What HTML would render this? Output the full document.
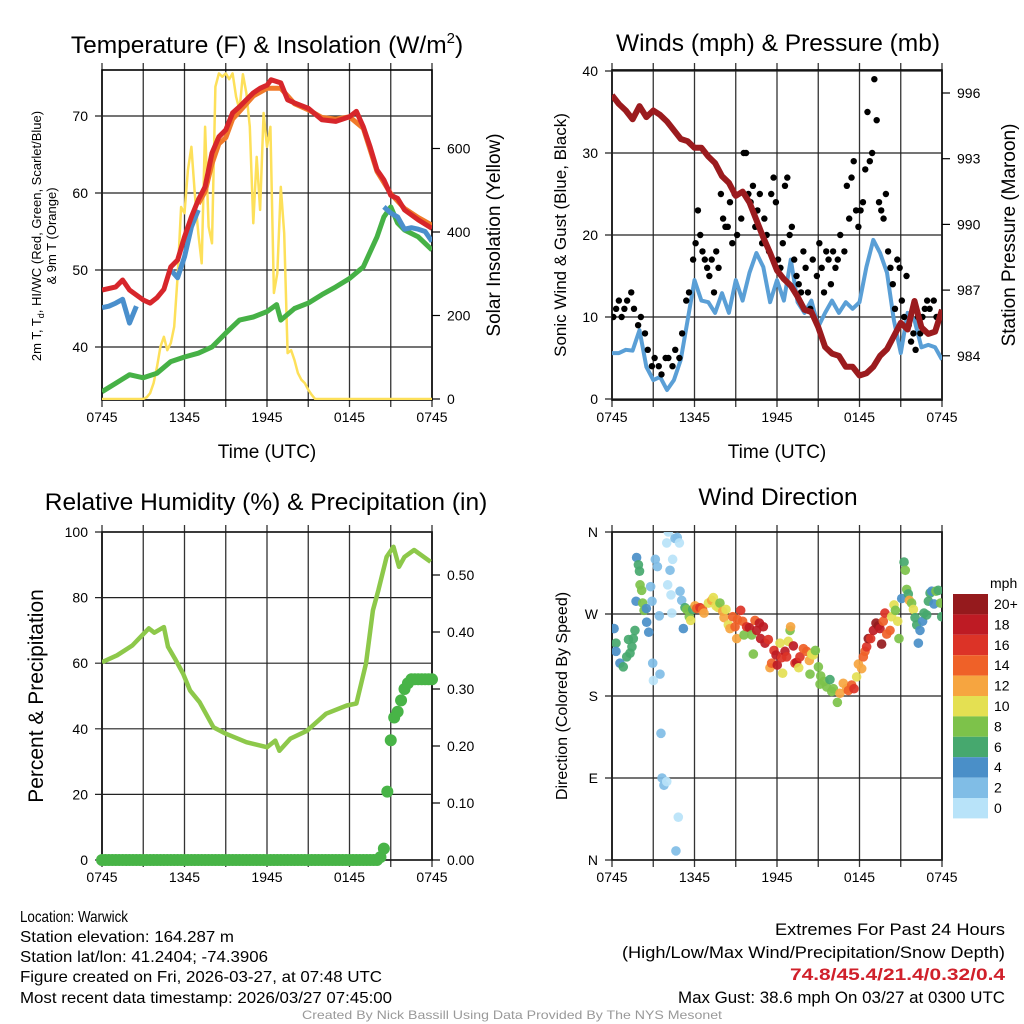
<!DOCTYPE html>
<html><head><meta charset="utf-8"><title>Warwick Meteogram</title>
<style>
html,body{margin:0;padding:0;background:#fff;}
svg{display:block;font-family:"Liberation Sans",sans-serif;}
</style></head>
<body>
<svg id="fig" width="1024" height="1024" viewBox="0 0 1024 1024" xmlns="http://www.w3.org/2000/svg">
<defs>
<clipPath id="c1"><rect x="102" y="70" width="330" height="330"/></clipPath>
<clipPath id="c2"><rect x="612" y="70" width="330" height="330"/></clipPath>
<clipPath id="c3"><rect x="102" y="532" width="330" height="328"/></clipPath>
<clipPath id="c4"><rect x="612" y="532" width="330" height="328"/></clipPath>
</defs>

<!-- titles -->
<text x="267" y="53" font-size="24.5" text-anchor="middle">Temperature (F) &amp; Insolation (W/m<tspan dy="-10" font-size="15">2</tspan><tspan dy="10">)</tspan></text>
<text x="778" y="51" font-size="24.5" text-anchor="middle">Winds (mph) &amp; Pressure (mb)</text>
<text x="266" y="510" font-size="24.5" text-anchor="middle">Relative Humidity (%) &amp; Precipitation (in)</text>
<text x="778" y="505" font-size="24.5" text-anchor="middle">Wind Direction</text>

<!-- axis titles -->
<text x="267" y="458" font-size="19" text-anchor="middle">Time (UTC)</text>
<text x="777" y="458" font-size="19" text-anchor="middle">Time (UTC)</text>
<text transform="translate(41,236) rotate(-90)" font-size="13" text-anchor="middle">2m T, T<tspan dy="3" font-size="9">d</tspan><tspan dy="-3">, HI/WC (Red, Green, Scarlet/Blue)</tspan></text>
<text transform="translate(56,236) rotate(-90)" font-size="13" text-anchor="middle">&amp; 9m T (Orange)</text>
<text transform="translate(500,235) rotate(-90)" font-size="19" text-anchor="middle">Solar Insolation (Yellow)</text>
<text transform="translate(566,235) rotate(-90)" font-size="17" text-anchor="middle">Sonic Wind &amp; Gust (Blue, Black)</text>
<text transform="translate(1015,235) rotate(-90)" font-size="19" text-anchor="middle">Station Pressure (Maroon)</text>
<text transform="translate(43,696) rotate(-90)" font-size="21" text-anchor="middle">Percent &amp; Precipitation</text>
<text transform="translate(567,696) rotate(-90)" font-size="16" text-anchor="middle">Direction (Colored By Speed)</text>

<g id="layer"></g>

<!-- colorbar label -->
<text x="990" y="588" font-size="14">mph</text>

<!-- footer -->
<g font-size="16">
<text x="20" y="922" textLength="108" lengthAdjust="spacingAndGlyphs">Location: Warwick</text>
<text x="20" y="942" textLength="214" lengthAdjust="spacingAndGlyphs">Station elevation: 164.287 m</text>
<text x="20" y="962" textLength="248" lengthAdjust="spacingAndGlyphs">Station lat/lon: 41.2404; -74.3906</text>
<text x="20" y="982" textLength="362" lengthAdjust="spacingAndGlyphs">Figure created on Fri, 2026-03-27, at 07:48 UTC</text>
<text x="20" y="1003" textLength="372" lengthAdjust="spacingAndGlyphs">Most recent data timestamp: 2026/03/27 07:45:00</text>
</g>
<g font-size="17" text-anchor="end">
<text x="1005" y="935" textLength="230" lengthAdjust="spacingAndGlyphs">Extremes For Past 24 Hours</text>
<text x="1005" y="958" textLength="383" lengthAdjust="spacingAndGlyphs">(High/Low/Max Wind/Precipitation/Snow Depth)</text>
<text x="1005" y="980" textLength="215" lengthAdjust="spacingAndGlyphs" fill="#d0202a" font-weight="bold">74.8/45.4/21.4/0.32/0.4</text>
<text x="1005" y="1003" textLength="327" lengthAdjust="spacingAndGlyphs">Max Gust: 38.6 mph On 03/27 at 0300 UTC</text>
</g>
<text x="512" y="1019" font-size="12" fill="#999" text-anchor="middle" textLength="420" lengthAdjust="spacingAndGlyphs">Created By Nick Bassill Using Data Provided By The NYS Mesonet</text>
</svg>

<script>
// ---- time axis ----
const xTickLabels = ["0745","1345","1945","0145","0745"];
// ---- panel 1: temperature ----
const tempTimes = [0,1,1.5,2,3,3.5,4,4.5,5,5.5,6,6.5,7,7.5,8,8.5,9,9.5,10,10.5,11,11.5,12,12.3,13,13.5,14,15,16,17,18,18.5,19,19.5,20,20.5,21,21.5,22,23,24];
const tempValues = [47.4,47.8,48.7,47.4,46.1,45.7,46.4,47.5,50.4,51.3,54.3,56.9,59.1,60.8,65.2,67.3,68.2,70.4,71.2,72.1,73.0,73.6,74.0,74.7,74.3,72.1,71.7,71.0,69.5,69.3,69.9,70.6,68.6,66.0,63.0,61.7,59.7,59.3,57.8,56.5,55.4];
const t9Times = [7,7.5,8,8.5,9,9.5,10,11,12,13,14,15,16,17,18,19,20,21,22,23,24];
const t9Values = [58.6,60.2,63.8,66.4,67.2,69.6,70.6,72.6,73.6,73.6,71.6,70.8,69.8,69.6,69.9,68.4,62.8,59.9,58.0,56.8,55.8];
const dewTimes = [0,1,2,3,4,5,6,7,8,9,10,11,12,12.7,13,14,15,16,17,18,19,20,20.5,21,21.5,22,23,24];
const dewValues = [34.2,35.3,36.4,36.0,36.6,38.1,38.7,39.2,40.0,41.8,43.5,43.9,44.6,45.5,43.5,45.0,45.7,46.8,47.8,48.9,50.4,54.3,56.9,58.2,56.1,55.2,54.3,52.6];
const hiTimes = [0,0.5,1,1.5,2,2.5,4.8,5,5.5,6,6.5,7,20,20.5,21,21.5,22,22.5,23,23.5,24];
const hiValues = [45.1,45.3,45.7,46.2,43.1,45.3,null,50.0,49.0,51.7,55.6,57.8,null,58.2,57.4,56.9,55.3,55.5,55.3,55.0,53.7];
const solarTimes = [0,3,3.25,3.5,3.75,4,4.25,4.5,4.75,5,5.25,5.5,5.75,6,6.25,6.5,6.75,7,7.25,7.5,7.75,8,8.25,8.5,8.75,9,9.25,9.5,9.75,10,10.25,10.5,10.75,11,11.25,11.5,11.75,12,12.25,12.5,12.75,13,13.25,13.5,13.75,14,14.25,14.5,14.75,15,15.25,15.5,24];
const solarValues = [0,0,4,14,38,77,125,149,117,134,173,293,460,445,548,604,492,397,325,652,413,373,748,780,772,780,766,780,724,692,778,732,652,421,580,453,685,604,652,254,301,508,397,110,117,93,62,46,38,22,10,0,0];
const tempTicks = [40,50,60,70];
const solarTicks = [0,200,400,600];
// ---- panel 2: winds ----
const windTimes = [0,0.5,1,1.5,2,2.5,3,3.5,4,4.5,5,5.5,6,6.5,7,7.5,8,8.5,9,9.5,10,10.5,11,11.5,12,12.5,13,13.5,14,14.5,15,15.5,16,16.5,17,17.5,18,18.5,19,19.5,20,20.5,21,21.5,22,22.5,23,23.5,24];
const windValues = [5.6,5.6,6.0,5.9,8.4,3.9,2.3,2.7,1.1,2.3,4.8,9.6,14.5,12,11.8,10.5,12.9,10.5,14.5,12,15.4,17.8,16.1,11.8,14.5,12,17,11.8,10.5,12,8.8,10.5,12,10.5,11.8,11,11.8,16.1,19.4,17.8,15.4,9.6,5.6,10.5,9.6,6.3,6.6,6.3,4.8];
const pressureValues = [995.9,995.5,995.2,994.8,995.4,994.9,995.2,995.0,994.7,994.3,993.9,993.8,993.5,993.5,993.1,992.8,992.2,991.9,991.3,991.5,991.0,990.2,989.4,988.7,987.9,987.5,987.2,986.7,986.1,986.0,985.3,984.4,984.1,984.0,983.5,983.5,983.1,983.2,983.5,984.0,984.3,984.9,985.5,985.2,986.5,985.3,985.0,985.1,986.1];
const gustTimes = [0.1,0.3,0.5,0.7,0.9, 1.1,1.4,1.6,1.9, 2.1,2.4, 2.6,2.9, 3.1,3.4,3.6,3.9, 4.1,4.4,4.6,4.9, 5.1,5.4, 5.6,5.9,
 6.08,6.25,6.42, 6.58,6.75,6.92, 7.08,7.25,7.42, 7.58,7.75,7.92, 8.08,8.25,8.42, 8.58,8.75,8.92, 9.1,9.4, 9.58,9.75,9.92,
 10.08,10.25,10.42, 10.58,10.75,10.92, 11.08,11.25,11.42, 11.58,11.75,11.92, 12.08,12.25,12.42, 12.58,12.75,12.92,
 13.08,13.25,13.42, 13.58,13.75,13.92, 14.08,14.25,14.42, 14.6,14.9, 15.08,15.25,15.42, 15.58,15.75,15.92,
 16.08,16.25,16.42, 16.6,16.9, 17.08,17.25,17.42, 17.58,17.75,17.92, 18.08,18.25,18.42, 18.58,18.75,18.92,
 19.08,19.25,19.42, 19.58,19.75,19.92, 20.08,20.25,20.42, 20.58,20.75,20.92, 21.08,21.25,21.42, 21.58,21.75,21.92,
 22.08,22.25,22.42, 22.58,22.75,22.92, 23.1,23.4,23.6,23.9];
const gustValues = [10,11,12,10,11, 12,13,11,9, 10,8, 6,4, 5,4,3,5, 5,4,6,5, 8,12, 13,17,
 19,23,20, 18,17,16, 15,17,13, 18,16,25, 22,21,21, 24,19,25, 20,22, 30,30,25,
 24,26,21, 23,25,19, 22,20,18, 25,27,24, 17,16,19, 26,27,20,
 21,17,15, 14,13,18, 16,13,11, 17,15, 19,16,13, 18,17,14,
 18,16,17, 20,18, 26,22,27, 29,23,21, 23,24,28, 35,29,30,
 39,34,24, 23,22,25, 18,16,14, 11,17,16, 12,10,15, 9,7,8,
 6,10,8, 10,11,12, 11,12,10,10];
const windTicks = [0,10,20,30,40];
const pressureTicks = [984,987,990,993,996];
// ---- panel 3: humidity & precipitation ----
const rhTimes = [0,1.1,2.2,3.4,3.8,4.5,4.8,5.3,5.9,6.4,7.1,8.1,9.0,10.5,12.0,12.6,12.9,13.7,14.9,16.3,17.8,18.5,19.2,19.7,20.1,20.7,21.2,21.6,22.0,22.7,23.9];
const rhValues = [60.3,62.4,65.4,70.6,69.3,71.0,65.0,61.4,56.8,51.7,48.1,40.5,38.5,35.9,34.4,36.4,33.3,37.0,39.4,44.6,47.1,47.7,59.9,76.1,82.3,92.4,95.5,89.4,92.4,94.5,90.9];
const precipValues = [0,0,0,0,0,0,0,0,0,0,0,0,0,0,0,0,0,0,0,0,0,0,0,0,0,0,0,0,0,0,0,0,0,0,0,0,0,0,0,0,
 0,0,0,0,0,0,0,0,0,0,0,0,0,0,0,0,0,0,0,0,0,0,0,0,0,0,0,0,0,0,0,0,0,0,0,0,0,0,0,0,0,
 0.005,0.02,0.12,0.21,0.25,0.26,0.28,0.30,0.31,0.317,0.317,0.317,0.317,0.317,0.317,0.317];
const rhTicks = [0,20,40,60,80,100];
const precipTicks = ["0.00","0.10","0.20","0.30","0.40","0.50"];
// ---- panel 4: wind direction ----
const dirTimes = [0.15,0.29,0.29,0.58,0.82,1.07,1.31,1.2,1.55,1.67,1.45,1.79,1.92,2.0,2.04,2.16,1.75,2.23,2.33,2.52,2.67,2.5,2.81,2.91,2.96,3.01,3.15,3.30,3.44,3.49,3.56,3.64,3.78,3.98,4.10,3.98,4.22,4.05,4.29,4.41,4.35,4.58,4.75,4.90,4.82,4.65,4.95,5.07,5.19,5.31,5.43,5.62,5.72,5.87,6.04,6.16,6.40,6.59,6.69,7.01,7.25,7.37,7.56,7.73,7.85,8.05,8.15,8.29,8.46,8.58,8.78,8.95,9.07,9.12,9.36,9.50,9.60,9.79,9.99,10.16,10.28,10.40,10.52,10.72,10.81,11.01,11.13,11.37,11.49,11.61,11.78,11.93,12.02,12.22,12.41,12.34,12.58,12.70,12.82,12.95,12.99,13.19,13.31,13.43,13.58,13.67,13.92,14.16,14.35,14.52,14.64,14.79,15.01,14.40,15.18,15.13,15.42,15.61,15.85,15.98,16.10,16.39,16.58,16.82,17.07,17.19,17.43,17.60,17.79,17.92,18.16,18.28,18.40,18.52,18.64,18.81,19.01,19.20,19.37,19.49,19.61,19.73,19.85,19.98,20.22,20.34,20.51,20.61,20.78,20.87,21.07,21.24,21.33,21.43,21.55,21.62,21.79,21.92,22.04,22.16,22.28,22.40,22.59,22.69,22.89,23.01,23.13,23.25,23.42,23.56,23.73,23.90,23.98];
const dirValues = [254,238,229,216,212,223,227,242,243,252,234,332,324,317,302,296,284,282,274,261,250,276,300,284,216,197,330,322,268,204,139,90,82,86,360,348,318,302,291,330,271,353,354,348,47,10,295,285,254,277,275,267,263,275,279,276,277,275,271,282,285,288,279,277,282,273,266,275,258,254,267,256,243,264,274,262,247,256,255,247,226,263,252,260,243,256,238,242,211,216,230,225,214,238,205,222,229,223,240,252,256,235,216,217,211,223,232,229,219,226,225,230,212,204,202,193,196,190,198,185,188,173,183,194,188,186,192,188,201,215,210,223,229,234,243,243,252,260,257,254,237,262,271,248,252,267,280,274,262,243,287,327,318,297,292,285,282,275,266,258,238,252,262,271,269,284,293,295,281,295,296,282,267];
const dirSpeeds = [4,6,4,4,6,6,6,6,6,6,6,4,6,6,8,8,4,8,8,4,4,4,2,2,2,0,2,2,2,2,2,2,2,0,0,0,2,0,0,0,0,2,2,0,0,2,2,2,4,6,8,8,10,6,12,14,16,14,12,10,12,10,10,10,8,12,12,10,10,12,14,14,12,14,16,14,8,16,18,8,8,14,18,18,18,18,18,16,12,14,16,18,18,10,10,16,18,16,10,8,12,18,16,18,10,16,14,14,12,10,10,8,8,8,8,8,8,8,6,8,8,8,12,12,12,14,14,16,10,12,12,14,14,16,20,16,18,20,20,18,20,14,16,14,14,10,10,8,10,8,4,6,8,8,6,12,8,10,6,6,4,4,4,6,6,6,6,4,4,8,6,8,6];
const dirTickLabels = ["N","E","S","W","N"];
const speedLabels = ["20+","18","16","14","12","10","8","6","4","2","0"];
const speedColors = ["#951a1d","#be1b24","#dc3327","#ef6128","#f6a540","#e4e052","#7dc24a","#46a86e","#4a8fc8","#80bde6","#b8e3f9"];

// ---- scales ----
const xA = t => 102 + t * 330 / 24;
const xB = t => 612 + t * 330 / 24;
const yTemp = v => 116 + (70 - v) * 7.7;
const ySolar = s => 399 - s * 0.4175;
const yWind = w => 399 - w * 8.2;
const yPres = p => 93 + (996 - p) * 21.9;
const yRH = r => 860 - r * 3.28;
const yPrecip = p => 860 - p * 570;
const yDir = d => 860 - d * 328 / 360;

const NS = "http://www.w3.org/2000/svg";
const layer = document.getElementById("layer");
function mk(tag, attrs, parent) {
  const e = document.createElementNS(NS, tag);
  for (const k in attrs) e.setAttribute(k, attrs[k]);
  (parent || layer).appendChild(e);
  return e;
}
function pathFrom(times, vals, xf, yf) {
  let d = "", pen = false;
  for (let i = 0; i < times.length; i++) {
    if (vals[i] === null) { pen = false; continue; }
    d += (pen ? "L" : "M") + xf(times[i]).toFixed(1) + "," + yf(vals[i]).toFixed(1);
    pen = true;
  }
  return d;
}
function frame(x0, y0, w, h, name) {
  const g = mk("g", {});
  
  
  for (let i = 0; i <= 8; i++) {
    const x = x0 + i * w / 8;
    mk("line", {x1: x, x2: x, y1: y0 - 7, y2: y0 + h + 7, stroke: "#333", "stroke-width": 1.3}, g);
  }
  mk("rect", {x: x0, y: y0, width: w, height: h, fill: "none", stroke: "#000", "stroke-width": 1.6}, g);
  for (let i = 0; i < 5; i++) {
    const t = mk("text", {x: x0 + i * w / 4, y: y0 + h + 22, "font-size": 14, "text-anchor": "middle"}, g);
    t.textContent = xTickLabels[i];
    
    
  }
  return g;
}
function hline(g, x0, w, y) {
  mk("line", {x1: x0 - 7, x2: x0 + w, y1: y, y2: y, stroke: "#222", "stroke-width": 1.2}, g);
}
function label(g, x, y, txt, anchor) {
  const t = mk("text", {x: x, y: y + 5, "font-size": 14, "text-anchor": anchor}, g);
  t.textContent = txt;
  
  
}
function rticks(g, x, yf, ticks, fmt) {
  ticks.forEach(v => {
    const y = yf(v);
    mk("line", {x1: x, x2: x + 8, y1: y, y2: y, stroke: "#000", "stroke-width": 1.2}, g);
    label(g, x + 15, y, fmt(v), "start");
  });
}

// ===== Panel 1 =====
const g1 = frame(102, 70, 330, 330, "temperature");
tempTicks.forEach(v => { hline(g1, 102, 330, yTemp(v)); label(g1, 88, yTemp(v), String(v), "end"); });
rticks(g1, 432, ySolar, solarTicks, v => String(v));
const p1 = mk("g", {"clip-path": "url(#c1)"});
const solarLine = mk("path", {d: pathFrom(solarTimes, solarValues, xA, ySolar), fill: "none", stroke: "#fde05a", "stroke-width": 2.5, "stroke-linejoin": "round"}, p1);


const dewLine = mk("path", {d: pathFrom(dewTimes, dewValues, xA, yTemp), fill: "none", stroke: "#46b146", "stroke-width": 5, "stroke-linejoin": "round"}, p1);


const t9Line = mk("path", {d: pathFrom(t9Times, t9Values, xA, yTemp), fill: "none", stroke: "#f07a2a", "stroke-width": 5, "stroke-linejoin": "round"}, p1);


const hiLine = mk("path", {d: pathFrom(hiTimes, hiValues, xA, yTemp), fill: "none", stroke: "#4a8fcc", "stroke-width": 5, "stroke-linejoin": "round"}, p1);


const tLine = mk("path", {d: pathFrom(tempTimes, tempValues, xA, yTemp), fill: "none", stroke: "#d7262b", "stroke-width": 5, "stroke-linejoin": "round"}, p1);



// ===== Panel 2 =====
const g2 = frame(612, 70, 330, 330, "winds");
windTicks.forEach(v => { hline(g2, 612, 330, yWind(v)); label(g2, 598, yWind(v), String(v), "end"); });
rticks(g2, 942, yPres, pressureTicks, v => String(v));
const p2 = mk("g", {"clip-path": "url(#c2)"});
const wLine = mk("path", {d: pathFrom(windTimes, windValues, xB, yWind), fill: "none", stroke: "#5a9fd6", "stroke-width": 4, "stroke-linejoin": "round"}, p2);


gustValues.forEach((v, i) => {
  const c = mk("circle", {cx: xB(gustTimes[i]), cy: yWind(v), r: 3.2, fill: "#000"}, p2);
  
  
});
const pLine = mk("path", {d: pathFrom(windTimes, pressureValues, xB, yPres), fill: "none", stroke: "#9b1b1e", "stroke-width": 6, "stroke-linejoin": "round"}, p2);



// ===== Panel 3 =====
const g3 = frame(102, 532, 330, 328, "humidity");
rhTicks.forEach(v => { hline(g3, 102, 330, yRH(v)); label(g3, 88, yRH(v), String(v), "end"); });
rticks(g3, 432, v => yPrecip(parseFloat(v)), precipTicks, v => v);
const p3 = mk("g", {"clip-path": "url(#c3)"});
const rhLine = mk("path", {d: pathFrom(rhTimes, rhValues, xA, yRH), fill: "none", stroke: "#8dc84a", "stroke-width": 4.5, "stroke-linejoin": "round"}, p3);


precipValues.forEach((v, i) => {
  const c = mk("circle", {cx: xA(i * 0.25), cy: yPrecip(v), r: 6, fill: "#48b447"}, layer);
  
  
});

// ===== Panel 4 =====
const g4 = frame(612, 532, 330, 328, "direction");
dirTickLabels.forEach((lab, i) => { const y = yDir(i * 90); hline(g4, 612, 330, y); label(g4, 598, y, lab, "end"); });
const p4 = mk("g", {"clip-path": "url(#c4)"});
dirValues.forEach((d, i) => {
  const s = dirSpeeds[i];
  const idx = s >= 20 ? 0 : 10 - Math.floor(s / 2);
  const c = mk("circle", {cx: xB(dirTimes[i]), cy: yDir(d), r: 4.8, fill: speedColors[idx], "fill-opacity": 0.92}, p4);
  
  
});
// colorbar
speedLabels.forEach((lab, i) => {
  const r = mk("rect", {x: 953, y: 594 + i * 20.4, width: 35, height: 20.4, fill: speedColors[i]});
  
  
  const t = mk("text", {x: 994, y: 609 + i * 20.4, "font-size": 14});
  t.textContent = lab;
  
  
});
</script>
</body></html>
